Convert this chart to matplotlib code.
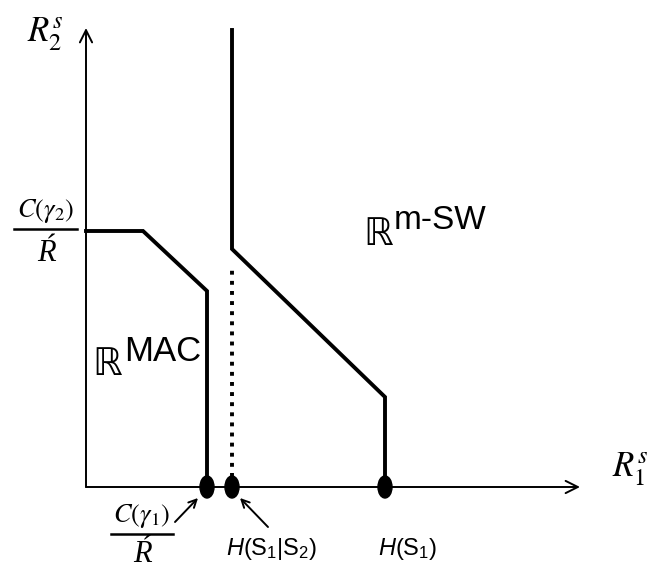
import matplotlib
matplotlib.use("Agg")
import matplotlib.pyplot as plt
from matplotlib.patches import Ellipse

plt.rcParams['mathtext.fontset'] = 'stix'
plt.rcParams['mathtext.rm'] = 'Liberation Sans'
plt.rcParams['mathtext.it'] = 'Liberation Sans:italic'
plt.rcParams['mathtext.bf'] = 'Liberation Sans:bold'
plt.rcParams['font.family'] = ['Liberation Sans', 'DejaVu Sans']

# Rate-region boundaries (arbitrary units; origin at the axes crossing)
mac_x = [0, 57, 121, 121]
mac_y = [256, 256, 196, 0]
msw_x = [146, 146, 299, 299]
msw_y = [457, 238, 90, 0]
dotted_x = [146, 146]
dotted_y = [0, 222]
point_x = [121, 146, 299]

x_end, y_end = 494, 459

fig = plt.figure(figsize=(6.65, 5.69), dpi=100)
ax = fig.add_axes([0, 0, 1, 1])
ax.set_xlim(-86, 579)
ax.set_ylim(-82, 487)
ax.set_aspect('equal')
ax.axis('off')

# axes with open arrowheads
ax.annotate('', xy=(x_end, 0), xytext=(0, 0),
            arrowprops=dict(arrowstyle='->', lw=1.4, color='black',
                            mutation_scale=22, shrinkA=0, shrinkB=0))
ax.annotate('', xy=(0, y_end), xytext=(0, 0),
            arrowprops=dict(arrowstyle='->', lw=1.4, color='black',
                            mutation_scale=22, shrinkA=0, shrinkB=0))

ax.plot(mac_x, mac_y, color='black', lw=2.8, solid_joinstyle='miter')
ax.plot(msw_x, msw_y, color='black', lw=2.8, solid_joinstyle='miter')
ax.plot(dotted_x, dotted_y, color='black', lw=2.8, linestyle=(0, (1, 1.6)))

for px in point_x:
    ax.add_patch(Ellipse((px, 0), 14, 22, color='black', zorder=5))

# axis labels
ax.text(-41, 453, r'$R_2^s$', fontsize=25, ha='center', va='center')
ax.text(544, 18, r'$R_1^s$', fontsize=25, ha='center', va='center')

serif_it = dict(family='Liberation Serif', style='italic')

# C(gamma2)/R fraction on the vertical axis
ax.text(-40, 276, r'$C(\gamma_2)$', fontsize=19, ha='center', va='center')
ax.plot([-72, -9], [258, 258], color='black', lw=1.8)
ax.text(-40, 234, '\u0154', fontsize=22, ha='center', va='center', **serif_it)

# C(gamma1)/R fraction under the horizontal axis
ax.text(56, -29, r'$C(\gamma_1)$', fontsize=19, ha='center', va='center')
ax.plot([25, 87], [-47, -47], color='black', lw=1.8)
ax.text(56, -68, '\u0154', fontsize=22, ha='center', va='center', **serif_it)

ax.annotate('', xy=(112, -11), xytext=(89, -35),
            arrowprops=dict(arrowstyle='->', lw=1.4, color='black',
                            mutation_scale=14, shrinkA=0, shrinkB=0))
ax.annotate('', xy=(154, -11), xytext=(182, -40),
            arrowprops=dict(arrowstyle='->', lw=1.4, color='black',
                            mutation_scale=14, shrinkA=0, shrinkB=0))

ax.text(186, -62, r'$H$(S$_1$|S$_2$)', fontsize=17, ha='center', va='center',
        math_fontfamily='custom')
ax.text(322, -62, r'$H$(S$_1$)', fontsize=17, ha='center', va='center',
        math_fontfamily='custom')

# region labels
ax.text(21, 122, '\u211d', fontsize=27, ha='center', va='center')
ax.text(38, 136, 'MAC', fontsize=25, ha='left', va='center')
ax.text(292, 252, '\u211d', fontsize=27, ha='center', va='center')
ax.text(308, 267, 'm-SW', fontsize=24, ha='left', va='center')

fig.savefig('out.png', dpi=100)
